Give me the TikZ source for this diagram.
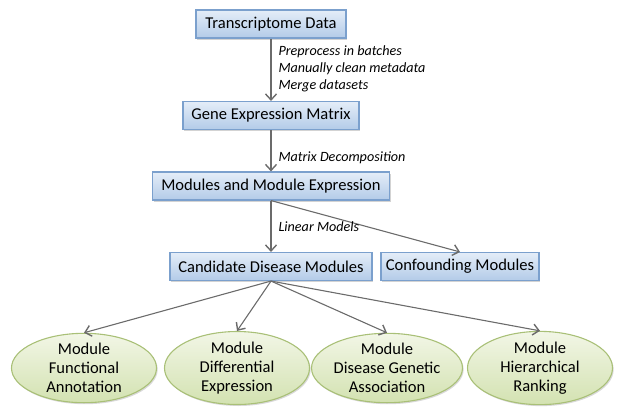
\documentclass[tikz,border=0pt]{standalone}
\usepackage{fontspec}
\setmainfont{Carlito}
\usepackage{tikz}
\usetikzlibrary{arrows.meta, positioning, shadows, shapes.geometric}

\definecolor{boxline}{HTML}{7BA0CD}
\definecolor{boxtop}{HTML}{E4EDF8}
\definecolor{boxbot}{HTML}{B3CBE8}
\definecolor{ellline}{HTML}{A9C077}
\definecolor{elltop}{HTML}{F2F6E6}
\definecolor{ellbot}{HTML}{D3E2B1}
\definecolor{arrgray}{HTML}{6B6B6B}

\tikzset{
  stagebox/.style={draw=boxline, line width=1.1bp, top color=boxtop, bottom color=boxbot,
    drop shadow={shadow xshift=1.2bp, shadow yshift=-1.5bp, opacity=0.35},
    minimum height=28bp, inner xsep=4bp, font=\fontsize{16.6}{19}\selectfont},
  analysis/.style={ellipse, draw=ellline, line width=1.1bp, top color=elltop, bottom color=ellbot,
    drop shadow={shadow xshift=1.2bp, shadow yshift=-1.5bp, opacity=0.3},
    minimum width=145bp, minimum height=68bp, inner sep=0pt, align=center,
    font=\fontsize{16.6}{18.8}\selectfont},
  flow/.style={draw=arrgray, line width=1.1bp, -{Straight Barb[length=6bp, width=11bp, line width=1.4bp]}},
  note/.style={anchor=west, align=left, font=\fontsize{14.2}{16.8}\selectfont\itshape}
}

\begin{document}
\begin{tikzpicture}[x=1bp, y=-1bp]
\useasboundingbox (0,0) rectangle (624,418);

% pipeline boxes
\node[stagebox, minimum width=150bp] (trans) at (271,24) {Transcriptome Data};
\node[stagebox, minimum width=176bp] (gem) at (271,115.5) {Gene Expression Matrix};
\node[stagebox, minimum width=237bp] (mods) at (271,186) {Modules and Module Expression};
\node[stagebox, minimum width=202bp] (cand) at (271,266.5) {Candidate Disease Modules};
\node[stagebox, minimum width=158bp] (conf) at (460,266.5) {Confounding Modules};

% downstream analyses
\node[analysis] (func) at (84,368) {Module\\Functional\\Annotation};
\node[analysis] (diff) at (237,368) {Module\\Differential\\Expression};
\node[analysis] (gen) at (387,368) {Module\\Disease Genetic\\Association};
\node[analysis] (rank) at (540,368) {Module\\Hierarchical\\Ranking};

% connectors
\draw[flow] (trans) -- (gem);
\draw[flow] (gem) -- (mods);
\draw[flow] (mods) -- (cand);
\draw[flow] (mods.south) -- (conf.north);
\foreach \t in {func, diff, gen, rank}
  \draw[flow] (cand.south) -- (\t.north);

% step notes
\node[note] (prep) at (275,69) {Preprocess in batches\\Manually clean metadata\\Merge datasets};
\node[note] (decomp) at (275,158) {Matrix Decomposition};
\node[note] (linear) at (275,227) {Linear Models};
\end{tikzpicture}
\end{document}
